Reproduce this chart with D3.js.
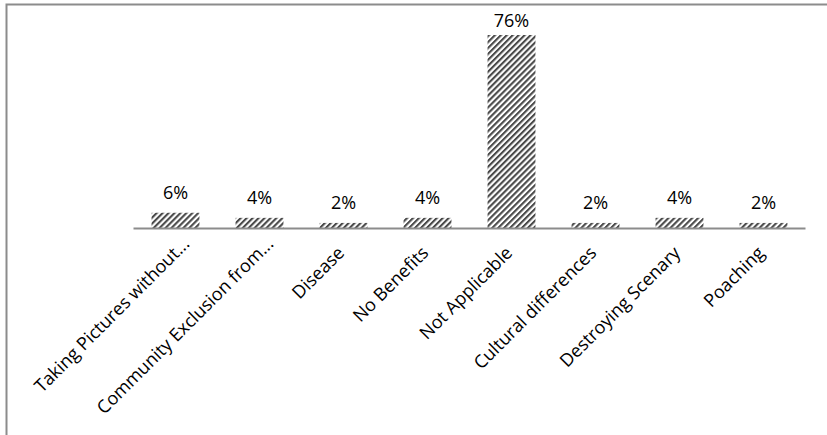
<!DOCTYPE html>
<html>
<head>
<meta charset="utf-8">
<script src="https://cdn.jsdelivr.net/npm/d3@7"></script>
<style>
  html, body { margin: 0; padding: 0; background: #fff; }
  svg { display: block; }
  text { font-family: "Open Sans", "Liberation Sans", sans-serif; fill: #000; }
</style>
</head>
<body>
<svg id="chart" width="827" height="435"></svg>
<script>
// Reported negative impacts of tourism (share of respondents)
const categories = [
  "Taking Pictures without...",
  "Community Exclusion from...",
  "Disease",
  "No Benefits",
  "Not Applicable",
  "Cultural differences",
  "Destroying Scenary",
  "Poaching"
];
const percentages = [6, 4, 2, 4, 76, 2, 4, 2];

const svg = d3.select("#chart");
const W = 827, H = 435;

// Chart frame (only its top and left edges fall inside the view)
svg.append("path")
  .attr("d", `M6.5,${H} V4.5 H${W}`)
  .attr("fill", "none")
  .attr("stroke", "#8c8c8c")
  .attr("stroke-width", 2);

// Diagonal hatch fill
const defs = svg.append("defs");
const pat = defs.append("pattern")
  .attr("id", "hatch")
  .attr("patternUnits", "userSpaceOnUse")
  .attr("width", 4.2)
  .attr("height", 4.2)
  .attr("patternTransform", "rotate(45)");
pat.append("rect").attr("width", 4.2).attr("height", 4.2).attr("fill", "#fff");
pat.append("rect").attr("width", 2.1).attr("height", 4.2).attr("fill", "#4a4a4a");

const plot = { left: 133.5, right: 805.5, base: 228 };

const x = d3.scaleBand()
  .domain(categories)
  .range([plot.left, plot.right])
  .paddingInner(0.43)
  .paddingOuter(0.215);

const y = d3.scaleLinear()
  .domain([0, 76])
  .range([plot.base, 35]);

// Bars
svg.append("g")
  .selectAll("rect")
  .data(categories)
  .join("rect")
  .attr("x", d => x(d))
  .attr("y", (d, i) => y(percentages[i]))
  .attr("width", x.bandwidth())
  .attr("height", (d, i) => plot.base - y(percentages[i]))
  .attr("fill", "url(#hatch)");

// Category axis with slanted labels
const axis = svg.append("g")
  .attr("transform", `translate(0,${plot.base})`)
  .call(d3.axisBottom(x).tickSize(0).tickPadding(0));
axis.select(".domain").attr("stroke", "#8c8c8c").attr("stroke-width", 2)
  .attr("d", `M${plot.left},0.5H${plot.right}`);
axis.selectAll(".tick text")
  .attr("font-family", "Open Sans")
  .attr("font-size", 18)
  .attr("fill", "#000")
  .attr("text-anchor", "end")
  .attr("x", null)
  .attr("y", null)
  .attr("dy", 0)
  // truncated labels sit a little further along the slant
  .attr("transform", d => d.endsWith("...")
    ? "translate(15,17) rotate(-45)"
    : "translate(2,26) rotate(-45)");

// Value labels
svg.append("g")
  .selectAll("text")
  .data(categories)
  .join("text")
  .attr("x", d => x(d) + x.bandwidth() / 2)
  .attr("y", (d, i) => Math.max(y(percentages[i]) - 13.5, 27))
  .attr("text-anchor", "middle")
  .attr("font-size", 18)
  .text((d, i) => percentages[i] + "%");
</script>
</body>
</html>
